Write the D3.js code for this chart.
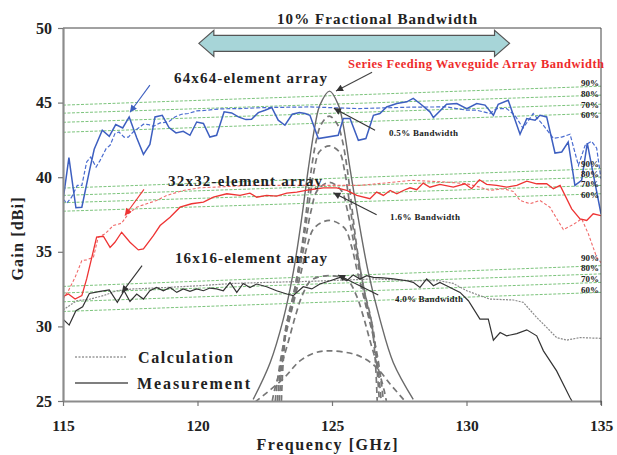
<!DOCTYPE html>
<html>
<head>
<meta charset="utf-8">
<script src="https://cdn.jsdelivr.net/npm/d3@7"></script>
<style>
  body { margin: 0; background: #fff; }
  svg { display: block; }
  text { font-family: "Liberation Serif", "Times New Roman", serif; font-weight: bold; }
</style>
</head>
<body>
<svg id="chart" width="617" height="455"></svg>
<script>
// ---- data: [frequency GHz, gain dBi] ----
const freqTicks = [115, 120, 125, 130, 135];
const gainTicks = [25, 30, 35, 40, 45, 50];

const meas64 = [[115.0,38.44],[115.22,41.31],[115.48,37.95],[115.7,37.99],[115.98,40.41],[116.16,41.87],[116.46,43.15],[116.72,42.74],[116.96,43.53],[117.22,43.3],[117.46,44.04],[117.74,42.65],[117.99,41.53],[118.23,42.2],[118.42,44.04],[118.69,44.15],[118.94,43.33],[119.2,42.97],[119.47,43.08],[119.72,42.81],[119.97,43.7],[120.22,43.6],[120.46,42.69],[120.71,42.81],[120.99,44.38],[121.27,44.31],[121.52,44.04],[121.8,43.86],[122.01,43.88],[122.26,44.33],[122.51,44.49],[122.76,44.67],[123.0,43.82],[123.25,43.48],[123.52,44.22],[123.79,44.33],[124.0,44.27],[124.18,44.15],[124.49,42.59],[125.23,42.81],[125.42,43.93],[125.67,43.93],[125.98,42.47],[126.26,42.59],[126.54,44.15],[126.78,44.27],[127.03,44.71],[127.41,44.94],[127.78,45.05],[128.02,45.28],[128.27,44.94],[128.64,44.38],[128.77,44.0],[129.26,44.89],[129.64,44.94],[130.01,44.6],[130.38,44.94],[130.69,44.83],[131.0,44.15],[131.18,44.89],[131.55,45.16],[131.99,42.88],[132.24,43.93],[132.55,43.82],[132.73,44.15],[132.98,44.04],[133.29,41.62],[133.54,41.69],[133.78,42.36],[134.03,39.45],[134.28,39.79],[134.49,42.29],[134.71,40.23],[135.0,37.55]];

const calc64 = [[115.0,38.55],[115.14,38.26],[115.32,38.66],[115.53,39.45],[115.7,39.45],[115.88,41.02],[116.03,41.35],[116.23,40.68],[116.38,41.13],[116.6,41.91],[116.75,42.14],[116.93,42.92],[117.08,43.03],[117.27,42.69],[117.43,42.69],[117.61,43.03],[117.78,43.26],[117.99,43.55],[118.17,43.53],[118.36,43.41],[118.61,43.64],[118.92,43.7],[119.16,44.04],[119.41,44.22],[119.66,44.27],[119.97,44.44],[120.34,44.49],[120.84,44.58],[121.58,44.6],[122.57,44.67],[124.18,44.71],[126.0,44.6],[128.0,44.7],[129.26,44.71],[130.01,44.49],[130.38,44.49],[130.87,44.27],[131.12,44.6],[131.49,44.6],[131.8,44.15],[132.1,43.28],[132.48,44.27],[132.86,43.48],[133.23,42.61],[133.54,42.69],[133.85,42.88],[134.16,40.79],[134.41,42.14],[134.65,42.41],[134.84,41.94],[135.0,39.9]];

const meas32 = [[115.0,31.99],[115.2,32.17],[115.45,31.83],[115.7,32.06],[115.88,33.18],[116.25,35.98],[116.5,36.04],[116.75,35.3],[116.93,35.64],[117.18,36.31],[117.49,35.64],[117.8,35.13],[117.99,35.19],[118.36,36.09],[118.61,36.76],[118.98,37.32],[119.35,37.99],[119.78,38.22],[120.22,38.33],[120.59,38.66],[121.09,38.89],[121.58,38.78],[121.95,38.93],[122.2,38.66],[122.57,38.78],[122.94,38.73],[123.32,38.93],[123.69,39.0],[124.18,39.16],[124.68,39.29],[125.17,39.29],[125.55,39.11],[125.92,38.78],[126.41,38.56],[126.66,39.0],[126.91,38.78],[127.16,39.11],[127.41,38.89],[127.65,39.11],[127.9,39.29],[128.15,39.16],[128.39,39.6],[128.64,39.33],[129.01,39.52],[129.51,39.33],[129.94,39.56],[130.19,39.23],[130.48,39.83],[130.75,39.52],[131.12,39.45],[131.49,39.33],[131.87,39.45],[132.24,39.74],[132.61,39.56],[132.98,39.56],[133.23,39.23],[133.48,39.45],[133.91,37.88],[134.22,37.21],[134.47,37.1],[134.71,37.55],[135.0,37.43]];

const calc32 = [[115.0,31.83],[115.2,32.39],[115.45,33.29],[115.7,34.41],[115.88,34.46],[116.13,34.63],[116.31,35.98],[116.56,36.2],[116.87,36.76],[117.18,36.92],[117.43,37.55],[117.74,37.99],[118.11,38.22],[118.48,38.44],[118.86,38.78],[119.47,39.11],[120.09,39.29],[120.71,39.34],[121.95,39.45],[124.18,39.45],[126.04,39.45],[127.98,39.79],[129.26,39.67],[130.01,39.56],[130.5,39.33],[130.87,39.11],[131.37,39.23],[131.74,39.05],[131.99,38.44],[132.36,38.22],[132.73,38.44],[133.1,37.99],[133.6,36.49],[133.97,36.83],[134.28,37.21],[134.53,36.2],[134.84,34.63],[135.0,34.27]];

const meas16 = [[115.0,30.49],[115.23,30.09],[115.48,31.05],[115.73,31.32],[115.98,32.21],[116.38,32.35],[116.72,32.44],[117.02,31.61],[117.27,32.39],[117.49,31.67],[117.74,32.17],[117.99,31.83],[118.23,32.39],[118.48,32.61],[118.73,32.39],[118.98,32.61],[119.23,32.28],[119.47,32.51],[119.72,32.35],[119.97,32.51],[120.22,32.39],[120.46,32.57],[120.71,32.51],[120.96,32.39],[121.21,32.95],[121.46,32.28],[121.7,32.88],[121.95,32.61],[122.2,32.84],[122.57,32.66],[122.94,32.39],[123.32,32.17],[123.56,32.06],[123.93,32.66],[124.25,32.51],[124.55,32.84],[124.93,33.06],[125.3,33.29],[125.55,33.06],[125.79,33.45],[126.04,33.18],[126.29,33.4],[126.54,33.29],[126.91,33.25],[127.28,33.18],[127.78,33.06],[128.02,32.95],[128.27,32.61],[128.52,33.18],[128.77,32.73],[129.01,32.95],[129.26,32.73],[129.76,32.28],[130.07,31.72],[130.5,30.49],[130.81,30.49],[131.0,29.08],[131.25,29.59],[131.49,29.37],[131.87,29.52],[132.24,29.77],[132.61,29.37],[132.86,28.36],[133.35,27.02],[133.85,25.22],[133.92,25.0]];

const calc16 = [[115.0,31.1],[115.51,31.72],[116.0,31.83],[116.5,32.06],[117.0,32.39],[117.61,32.51],[118.86,32.61],[120.09,32.73],[121.33,32.88],[122.57,32.95],[124.18,33.02],[126.54,33.18],[128.02,33.06],[129.01,33.06],[129.51,32.88],[130.01,32.39],[130.5,32.06],[130.87,31.83],[131.74,31.77],[132.11,31.61],[132.61,30.6],[132.98,29.93],[133.35,29.25],[133.72,29.08],[134.22,29.25],[134.84,29.21],[135.0,29.2]];

// single series-fed waveguide array response (solid) and its calculated family (dashed)
const bellSolid = [[122.07,25.11],[122.7,27.57],[123.19,30.49],[123.56,33.62],[123.87,37.21],[124.12,40.57],[124.37,43.48],[124.55,44.83],[124.91,45.77],[125.24,44.83],[125.42,43.48],[125.67,40.57],[125.98,37.21],[126.35,33.62],[126.78,30.49],[127.28,27.57],[128.02,25.11]];
const bell1 = [[123.12,25],[123.19,27.7],[123.34,30.4],[123.6,32.4],[123.86,35.1],[124.05,37.8],[124.23,40.5],[124.42,42.5],[124.6,43.55],[124.9,44.1],[125.2,43.55],[125.38,42.5],[125.57,40.5],[125.75,37.8],[125.94,35.1],[126.2,32.4],[126.46,30.4],[126.61,27.7],[126.68,25]];
const bell2 = [[123.04,25],[123.12,27.0],[123.26,29.7],[123.52,31.7],[123.78,34.1],[123.97,36.1],[124.16,38.4],[124.34,40.5],[124.53,41.7],[124.9,42.1],[125.27,41.7],[125.46,40.5],[125.64,38.4],[125.83,36.1],[126.02,34.1],[126.28,31.7],[126.54,29.7],[126.68,27.0],[126.76,25]];
const bell3 = [[122.97,25],[123.12,27.7],[123.3,29.7],[123.56,31.7],[123.78,33.7],[124.01,35.8],[124.23,37.8],[124.45,39.1],[124.9,39.65],[125.35,39.1],[125.57,37.8],[125.79,35.8],[126.02,33.7],[126.24,31.7],[126.5,29.7],[126.68,27.7],[126.83,25]];
const bell4 = [[122.89,25],[122.97,26.3],[123.15,28.4],[123.41,30.4],[123.64,32.1],[123.86,33.7],[124.08,35.4],[124.34,36.6],[124.9,37.1],[125.46,36.6],[125.72,35.4],[125.94,33.7],[126.16,32.1],[126.39,30.4],[126.65,28.4],[126.83,26.3],[126.91,25]];
const bell5 = [[122.78,25],[122.86,25.7],[123.12,27.4],[123.38,29.0],[123.64,30.7],[123.9,32.1],[124.23,33.1],[124.9,33.4],[125.57,33.1],[125.9,32.1],[126.16,30.7],[126.42,29.0],[126.68,27.4],[126.94,25.7],[127.02,25]];
const bell6 = [[122.14,24.93],[123.18,26.48],[123.81,27.69],[124.37,28.23],[124.93,28.36],[125.78,28.16],[126.23,27.82],[126.67,27.22],[127.16,26.14],[127.71,25.0]];

// aperture-efficiency reference lines: gain at 115 GHz and at 135 GHz
const effLabels = ["90%", "80%", "70%", "60%"];
const eff64Start = [44.83, 44.29, 43.68, 43.01], eff64End = [46.10, 45.50, 44.89, 44.29];
const eff32Start = [39.27, 38.78, 38.29, 37.72], eff32End = [40.57, 40.01, 39.45, 38.89];
const eff16Start = [32.68, 32.24, 31.65, 31.00], eff16End = [34.07, 33.52, 32.95, 32.28];

const fractionalBand = [120.05, 131.6];

// ---- drawing ----
const W = 617, H = 455;
const svg = d3.select("#chart");
const x = d3.scaleLinear().domain([115, 135]).range([63, 601]);
const y = d3.scaleLinear().domain([25, 50]).range([401, 28]);
const line = d3.line().x(d => x(d[0])).y(d => y(d[1]));

svg.append("rect").attr("width", W).attr("height", H).attr("fill", "#fff");

const defs = svg.append("defs");
defs.append("clipPath").attr("id", "plot")
  .append("rect").attr("x", 63).attr("y", 28).attr("width", 538).attr("height", 373);
function marker(id, color) {
  defs.append("marker").attr("id", id)
    .attr("viewBox", "0 0 10 10").attr("refX", 10).attr("refY", 5)
    .attr("markerUnits", "userSpaceOnUse").attr("markerWidth", 9).attr("markerHeight", 7)
    .attr("orient", "auto")
    .append("path").attr("d", "M0,0 L10,5 L0,10 z").attr("fill", color);
}
marker("ah-blue", "#3d5fc0");
marker("ah-red", "#ee3333");
marker("ah-dark", "#333");

const plot = svg.append("g").attr("clip-path", "url(#plot)");

// green efficiency lines
[[eff64Start, eff64End], [eff32Start, eff32End], [eff16Start, eff16End]].forEach(([s, e]) => {
  s.forEach((v, i) => {
    plot.append("path").datum([[115, v], [135, e[i]]])
      .attr("d", line).attr("fill", "none")
      .attr("stroke", "#7cc47c").attr("stroke-width", 1)
      .attr("stroke-dasharray", "3,1.5");
  });
});

// bell curves
[bell1, bell2, bell3, bell4, bell5, bell6].forEach(b => {
  plot.append("path").datum(b).attr("d", line.curve(d3.curveCatmullRom))
    .attr("fill", "none").attr("stroke", "#777").attr("stroke-width", 1.7)
    .attr("stroke-dasharray", "6,4");
});
plot.append("path").datum(bellSolid).attr("d", line.curve(d3.curveCatmullRom))
  .attr("fill", "none").attr("stroke", "#6a6a6a").attr("stroke-width", 1.4);
line.curve(d3.curveLinear);

// array gain curves
const series = [
  { d: calc16, c: "#8a8a8a", w: 1.2, dash: "2,1.2" },
  { d: meas16, c: "#333", w: 1.2, dash: null },
  { d: calc32, c: "#f06a6a", w: 1.1, dash: "3,2" },
  { d: meas32, c: "#ee3333", w: 1.3, dash: null },
  { d: calc64, c: "#4a6cd0", w: 1.2, dash: "4,2" },
  { d: meas64, c: "#3d5fc0", w: 1.5, dash: null }
];
series.forEach(s => {
  plot.append("path").datum(s.d).attr("d", line).attr("fill", "none")
    .attr("stroke", s.c).attr("stroke-width", s.w)
    .attr("stroke-dasharray", s.dash);
});

// axes
const yAxis = svg.append("g").attr("transform", "translate(63,0)")
  .call(d3.axisLeft(y).tickValues(gainTicks).tickSize(5).tickSizeOuter(0).tickPadding(6));
const xAxis = svg.append("g").attr("transform", "translate(0,401)")
  .call(d3.axisBottom(x).tickValues(freqTicks).tickSize(5).tickSizeOuter(0));
[yAxis, xAxis].forEach(a => {
  a.select(".domain").attr("stroke", "#8c8c8c").attr("stroke-width", 2.2);
  a.selectAll(".tick line").attr("stroke", "#777").attr("stroke-width", 1.2);
  a.selectAll(".tick text").attr("font-size", 16).attr("fill", "#222")
    .style("font-family", "'Liberation Serif', serif").style("font-weight", "bold");
});
xAxis.selectAll(".tick text").attr("y", 29.5).attr("dy", 0).attr("font-size", 15.5);
svg.append("path").attr("d", "M63,28H601V405").attr("fill", "none")
  .attr("stroke", "#444").attr("stroke-width", 1);

// axis titles
svg.append("text").attr("transform", "translate(23,239) rotate(-90)")
  .attr("text-anchor", "middle").attr("font-size", 16).attr("fill", "#222")
  .attr("textLength", 83).text("Gain [dBi]");
svg.append("text").attr("x", 327).attr("y", 449.5).attr("text-anchor", "middle")
  .attr("font-size", 16).attr("fill", "#222").attr("textLength", 141)
  .text("Frequency [GHz]");

// fractional bandwidth arrow
const ax1 = x(fractionalBand[0]), ax2 = x(fractionalBand[1]), ay = y(48.97);
svg.append("path")
  .attr("d", `M${ax1},${ay} L${ax1 + 15},${ay - 13} V${ay - 8} H${ax2 - 15} V${ay - 13} L${ax2},${ay} L${ax2 - 15},${ay + 13} V${ay + 8} H${ax1 + 15} V${ay + 13} Z`)
  .attr("fill", "#a7d5d8").attr("stroke", "#555").attr("stroke-width", 1.2);
svg.append("text").attr("x", 277).attr("y", 24).attr("font-size", 15)
  .attr("fill", "#222").attr("textLength", 200).text("10% Fractional Bandwidth");

// labels and pointers
function label(txt, x0, yb, size, len, color) {
  svg.append("text").attr("x", x0).attr("y", yb).attr("font-size", size)
    .attr("fill", color || "#222").attr("textLength", len).text(txt);
}
label("Series Feeding Waveguide Array Bandwidth", 348, 68, 12.5, 256, "#ee2b2b");
label("64x64-element array", 174, 83, 15, 153);
label("32x32-element array", 168, 186, 15, 154);
label("16x16-element array", 175, 263, 15, 152);
label("0.5% Bandwidth", 389, 136, 9, 69);
label("1.6% Bandwidth", 390, 219.5, 9, 70);
label("4.0% Bandwidth", 395, 302, 9, 68);

function pointer(from, to, color, m) {
  svg.append("line")
    .attr("x1", x(from[0])).attr("y1", y(from[1]))
    .attr("x2", x(to[0])).attr("y2", y(to[1]))
    .attr("stroke", color).attr("stroke-width", 1.1)
    .attr("marker-end", `url(#${m})`);
}
pointer([118.23, 46.17], [117.49, 44.35], "#3d5fc0", "ah-blue");
pointer([118.01, 39.18], [117.3, 37.43], "#ee3333", "ah-red");
pointer([117.94, 34.07], [117.19, 32.26], "#333", "ah-dark");
pointer([126.49, 47.04], [125.15, 45.77], "#444", "ah-dark");
pointer([126.6, 43.15], [125.07, 44.62], "#333", "ah-dark");
pointer([126.66, 37.48], [125.05, 38.96], "#333", "ah-dark");
pointer([126.72, 32.1], [125.23, 33.45], "#333", "ah-dark");

// efficiency labels at right edge
const effLabelGain = [[46.1, 45.36, 44.66, 43.99], [40.69, 40.02, 39.31, 38.58], [34.41, 33.7, 32.96, 32.22]];
effLabelGain.forEach(grp => grp.forEach((g, i) => {
  svg.append("text").attr("x", 599).attr("y", y(g)).attr("text-anchor", "end")
    .attr("font-size", 9).attr("fill", "#222").text(effLabels[i]);
}));

// legend
svg.append("line").attr("x1", 75).attr("x2", 127).attr("y1", 357).attr("y2", 357)
  .attr("stroke", "#666").attr("stroke-width", 1).attr("stroke-dasharray", "2,1.5");
svg.append("line").attr("x1", 75).attr("x2", 128).attr("y1", 383).attr("y2", 383)
  .attr("stroke", "#555").attr("stroke-width", 1.4);
label("Calculation", 138, 363, 16, 95);
label("Measurement", 137, 389, 16, 113);
</script>
</body>
</html>
